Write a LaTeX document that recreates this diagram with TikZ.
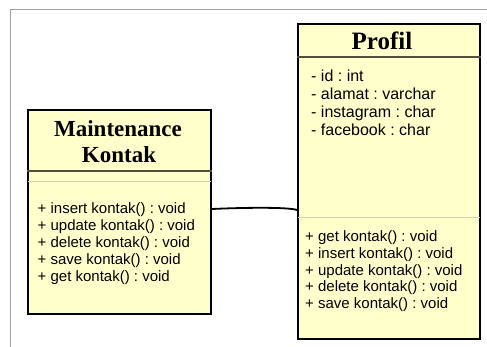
\documentclass[tikz,border=0pt]{standalone}
\usepackage{fontspec}
\setmainfont{Liberation Sans}
\newfontfamily\titlefont{Liberation Serif}
\frenchspacing
\definecolor{boxfill}{RGB}{255,255,204}
\definecolor{framegray}{RGB}{160,160,160}
\definecolor{faint}{RGB}{214,206,176}
\definecolor{sepcol}{RGB}{80,80,60}
\begin{document}
\begin{tikzpicture}[x=1pt,y=-1pt,
  classbox/.style={draw=black,line width=1.8pt,fill=boxfill,rectangle,inner sep=0pt},
  txt/.style={anchor=base west,inner sep=0pt,font=\frenchspacing\fontsize{15}{17}\selectfont},
  attr/.style={anchor=base west,inner sep=0pt,font=\frenchspacing\fontsize{16}{18}\selectfont},
  ttl/.style={anchor=base,inner sep=0pt},
  sep/.style={line width=1.5pt,draw=sepcol},
  fsep/.style={line width=0.8pt,draw=faint},
  conn/.style={line width=1.8pt,draw=black}]
\useasboundingbox (0,0) rectangle (487,347);
\fill[white] (0,0) rectangle (487,347);
\draw[framegray,line width=1pt] (487,10) -- (10,10) -- (10,347);
% left class
\node[classbox,minimum width=183pt,minimum height=204pt] (mk) at (119.5,212) {};
\node[ttl,font=\titlefont\bfseries\fontsize{23}{26}\selectfont] (mkt1) at (118,137) {Maintenance};
\node[ttl,font=\titlefont\bfseries\fontsize{23}{26}\selectfont] (mkt2) at (119,163) {Kontak};
\draw[sep] (mk.west |- 0,171) -- (mk.east |- 0,171);
\draw[fsep] ([xshift=1pt]mk.west |- 0,181) -- ([xshift=-1pt]mk.east |- 0,181);
\foreach \t [count=\i] in {{+ insert kontak() : void},{+ update kontak() : void},{+ delete kontak() : void},{+ save kontak() : void},{+ get kontak() : void}}
  \node[txt] (mkm\i) at (37.5,{214+17*(\i-1)}) {\t};
% right class
\node[classbox,minimum width=182pt,minimum height=315pt] (pr) at (389,181.5) {};
\node[ttl,font=\titlefont\bfseries\fontsize{25}{28}\selectfont] (prt) at (382,50) {Profil};
\draw[sep] (pr.west |- 0,57) -- (pr.east |- 0,57);
\draw[fsep] ([xshift=1pt]pr.west |- 0,217) -- ([xshift=-1pt]pr.east |- 0,217);
\foreach \t [count=\i] in {{- id : int},{- alamat : varchar},{- instagram : char},{- facebook : char}}
  \node[attr] (pra\i) at (311,{82+18*(\i-1)}) {\t};
\foreach \t [count=\i] in {{+ get kontak() : void},{+ insert kontak() : void},{+ update kontak() : void},{+ delete kontak() : void},{+ save kontak() : void}}
  \node[txt] (prm\i) at (305,{242+16.6*(\i-1)}) {\t};
% connector
\draw[conn] ([yshift=3pt]mk.east) .. controls (245,207.5) and (288,207) .. ([yshift=-28.5pt]pr.west);
\end{tikzpicture}
\end{document}
